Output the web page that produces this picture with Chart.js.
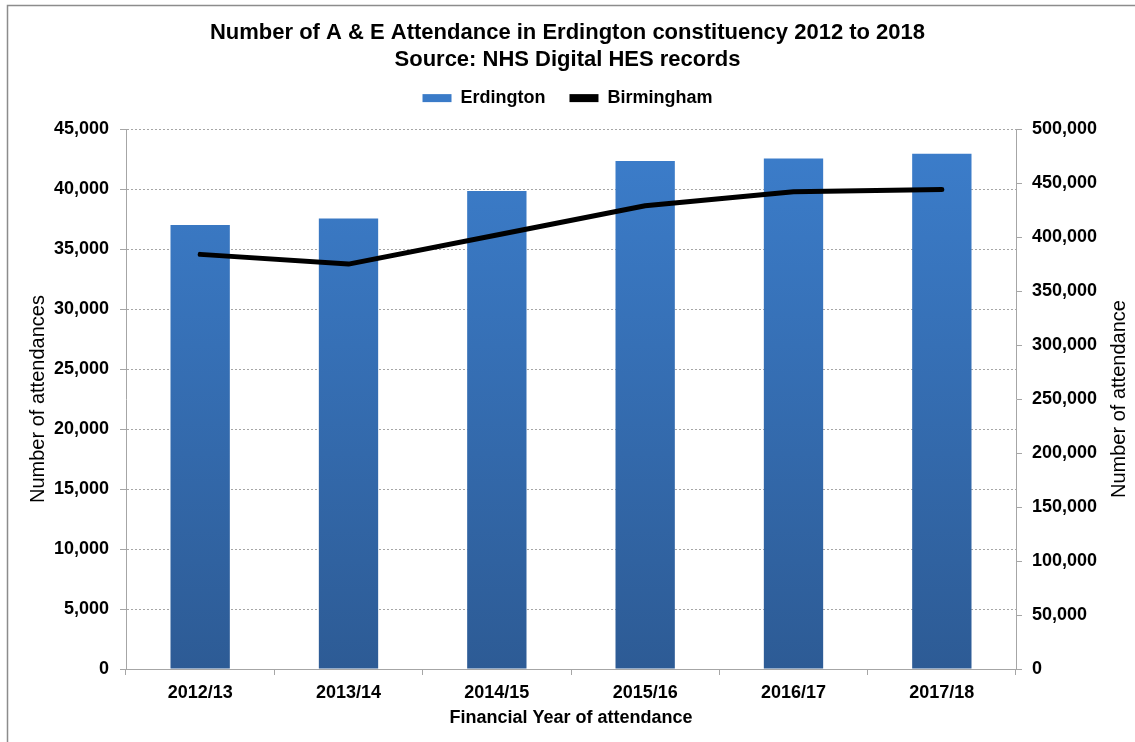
<!DOCTYPE html>
<html>
<head>
<meta charset="utf-8">
<script src="https://cdn.jsdelivr.net/npm/chart.js@4.4.0/dist/chart.umd.min.js"></script>
<style>
  html, body { margin: 0; padding: 0; background: #fff; }
  #wrap { width: 1135px; height: 742px; position: relative; }
</style>
</head>
<body>
<div id="wrap"><canvas id="myChart" width="1135" height="742"></canvas></div>
<script>
const years = ['2012/13', '2013/14', '2014/15', '2015/16', '2016/17', '2017/18'];
const erdington = [37000, 37550, 39850, 42350, 42550, 42950];
const birmingham = [384000, 375000, 402000, 429000, 442000, 444000];
const leftTicksMax = 45000;
const rightTicksMax = 500000;

const font = "'Liberation Sans', Arial, sans-serif";
const axisGrey = '#a6a6a6';

// white background + the grey frame on the left and top edge
const framePlugin = {
  id: 'frame',
  beforeDraw(chart) {
    const c = chart.ctx;
    c.save();
    c.fillStyle = '#fff';
    c.fillRect(0, 0, chart.width, chart.height);
    c.strokeStyle = '#8c8c8c';
    c.lineWidth = 1.5;
    c.beginPath();
    c.moveTo(7.5, chart.height + 5);
    c.lineTo(7.5, 5.5);
    c.lineTo(chart.width + 5, 5.5);
    c.stroke();
    c.restore();
  }
};

// right axis title reads bottom-to-top like the left one
const rightTitlePlugin = {
  id: 'rightTitle',
  afterDraw(chart) {
    const a = chart.chartArea;
    const c = chart.ctx;
    c.save();
    c.translate(1119, (a.top + a.bottom) / 2);
    c.rotate(-Math.PI / 2);
    c.font = '20px ' + font;
    c.fillStyle = '#000';
    c.textAlign = 'center';
    c.textBaseline = 'middle';
    c.fillText('Number of attendance', 0, 0);
    c.restore();
  }
};

function barGradient(context) {
  const area = context.chart.chartArea;
  if (!area) return '#3a7bc8';
  const g = context.chart.ctx.createLinearGradient(0, area.bottom, 0, area.top);
  g.addColorStop(0, '#2d5b95');
  g.addColorStop(1, '#3c7ecc');
  return g;
}

const fmt = v => v.toLocaleString('en-US');

const ctx = document.getElementById('myChart');
new Chart(ctx, {
  type: 'bar',
  data: {
    labels: years,
    datasets: [{
      label: 'Erdington',
      data: erdington,
      backgroundColor: barGradient,
      borderWidth: 0,
      barPercentage: 0.4,
      categoryPercentage: 1,
      yAxisID: 'y',
      order: 2
    }, {
      type: 'line',
      label: 'Birmingham',
      data: birmingham,
      borderColor: '#000',
      backgroundColor: '#000',
      borderWidth: 5,
      borderCapStyle: 'round',
      borderJoinStyle: 'round',
      pointRadius: 0,
      tension: 0,
      yAxisID: 'y1',
      order: 1
    }]
  },
  options: {
    responsive: false,
    animation: false,
    devicePixelRatio: 1,
    layout: { padding: 0 },
    plugins: {
      tooltip: { enabled: false },
      title: {
        display: true,
        text: ['Number of A & E Attendance in Erdington constituency 2012 to 2018', 'Source: NHS Digital HES records'],
        color: '#000',
        font: { family: font, size: 22, weight: 'bold', lineHeight: 1.23 },
        padding: { top: 19, bottom: -8 }
      },
      // empty subtitle used as a spacer between legend and plot
      subtitle: {
        display: true,
        text: ' ',
        weight: 500,
        font: { family: font, size: 12, lineHeight: 1 },
        padding: 0
      },
      legend: {
        display: true,
        labels: {
          color: '#000',
          font: { family: font, size: 18, weight: 'bold' },
          boxWidth: 29,
          boxHeight: 8,
          padding: 24,
          generateLabels: () => [
            { text: 'Erdington', fillStyle: '#3a7bc8', strokeStyle: '#3a7bc8', lineWidth: 0, datasetIndex: 0 },
            { text: 'Birmingham', fillStyle: '#000', strokeStyle: '#000', lineWidth: 0, datasetIndex: 1 }
          ]
        }
      }
    },
    scales: {
      x: {
        afterFit(s) { s.height = 73; },
        grid: { drawOnChartArea: false, color: axisGrey, tickLength: 6 },
        border: { color: axisGrey, width: 1 },
        ticks: { color: '#000', font: { family: font, size: 18, weight: 'bold' }, padding: 7, maxRotation: 0 },
        title: {
          display: true,
          text: 'Financial Year of attendance',
          color: '#000',
          font: { family: font, size: 18, weight: 'bold' },
          padding: { top: 0, bottom: 13 }
        }
      },
      y: {
        position: 'left',
        min: 0,
        max: leftTicksMax,
        afterFit(s) { s.width = 126; },
        grid: { color: axisGrey, tickBorderDash: [], tickLength: 6, tickColor: axisGrey },
        border: { color: axisGrey, width: 1, dash: [2, 2] },
        ticks: { stepSize: 5000, color: '#000', font: { family: font, size: 18, weight: 'bold' }, padding: 11, callback: fmt },
        title: {
          display: true,
          text: 'Number of attendances',
          color: '#000',
          font: { family: font, size: 20, weight: 'normal' },
          padding: { top: 26, bottom: 0 }
        }
      },
      y1: {
        position: 'right',
        min: 0,
        max: rightTicksMax,
        afterFit(s) { s.width = 119; },
        grid: { drawOnChartArea: false, color: axisGrey, tickLength: 6 },
        border: { color: axisGrey, width: 1 },
        ticks: { stepSize: 50000, color: '#000', font: { family: font, size: 18, weight: 'bold' }, padding: 10, callback: fmt }
      }
    }
  },
  plugins: [framePlugin, rightTitlePlugin]
});
</script>
</body>
</html>
